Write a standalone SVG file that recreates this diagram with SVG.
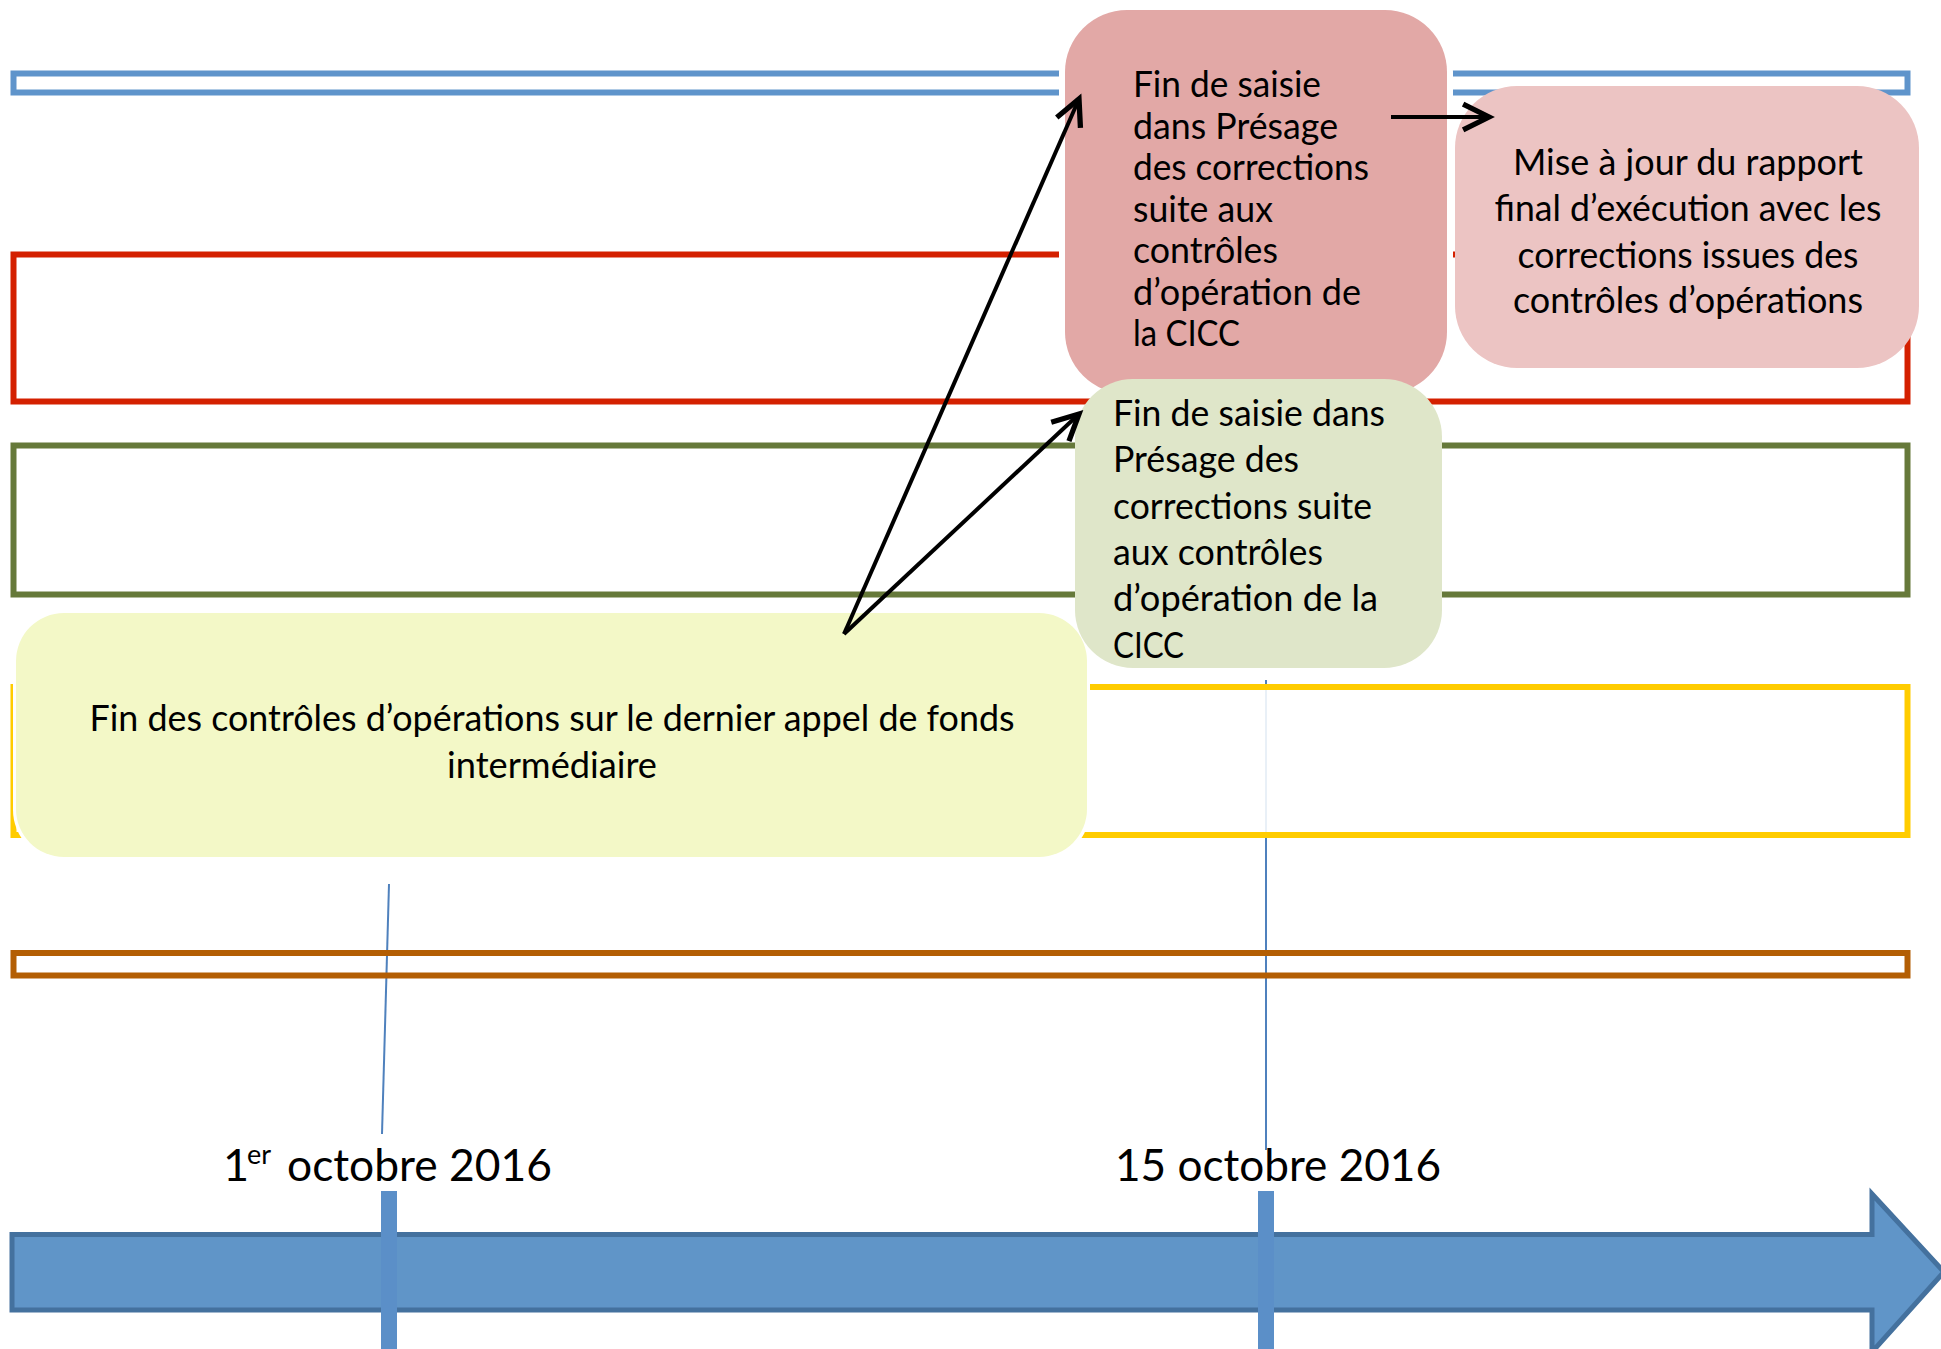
<svg xmlns="http://www.w3.org/2000/svg" width="1941" height="1349" viewBox="0 0 1941 1349">
<defs>
<style>
.t{font-family:Lato,"Liberation Sans",sans-serif;font-size:36px;fill:#000}
.d{font-family:Lato,"Liberation Sans",sans-serif;font-size:45px;fill:#000}
.band{fill:none;stroke-width:6}
.guide{stroke:#4f81bd;stroke-width:2;fill:none}
.conn{stroke:#000;fill:none;stroke-width:4}
</style>
<marker id="ah" markerUnits="userSpaceOnUse" markerWidth="40" markerHeight="40" viewBox="-4 -4 34 34" refX="22" refY="11" orient="auto">
<path d="M0,0 L22,11 L0,22" fill="none" stroke="#000" stroke-width="4.5" stroke-linejoin="miter"/>
</marker>
</defs>
<rect width="1941" height="1349" fill="#fff"/>

<g id="guides">
<line class="guide" x1="389" y1="884" x2="382" y2="1134"/>
<line class="guide" x1="1266" y1="680" x2="1266" y2="1150"/>
</g>

<g id="bands">
<rect class="band" x="13.5" y="73.5" width="1894" height="19" stroke="#5f94cb"/>
<rect class="band" x="13.5" y="254.5" width="1894" height="147" stroke="#d42000"/>
<rect class="band" x="13.5" y="445.5" width="1894" height="149" stroke="#66793a"/>
<rect class="band" x="13.5" y="687" width="1894" height="148" stroke="#ffcc00" style="fill:#fff;fill-opacity:0.88"/>
<rect class="band" x="13.5" y="953" width="1894" height="22.5" stroke="#b35e04"/>
</g>

<g id="timeline">
<path d="M12,1234.5 L1872,1234.5 L1872,1194 L1944,1272 L1872,1352 L1872,1310 L12,1310 Z" fill="#6095c8" stroke="#44719e" stroke-width="5"/>
<rect x="381" y="1191" width="16" height="158" fill="#5b8fc8"/>
<rect x="1258" y="1191" width="16" height="158" fill="#5b8fc8"/>
</g>

<g id="dates">
<text class="d"><tspan x="223" y="1181">1</tspan><tspan x="247" y="1164" font-size="27">er</tspan><tspan x="287" y="1181" textLength="265" lengthAdjust="spacingAndGlyphs">octobre 2016</tspan></text>
<text class="d" x="1115" y="1181" textLength="326" lengthAdjust="spacingAndGlyphs">15 octobre 2016</text>
</g>

<g id="node-fin-controles">
<rect x="13" y="610" width="1077" height="250" rx="50" fill="#fff"/>
<rect x="16" y="613" width="1071" height="244" rx="48" fill="#f3f8c7"/>
<text class="t" text-anchor="middle"><tspan x="552" y="731" textLength="925" lengthAdjust="spacingAndGlyphs">Fin des contrôles d’opérations sur le dernier appel de fonds</tspan><tspan x="552" y="778" textLength="210" lengthAdjust="spacingAndGlyphs">intermédiaire</tspan></text>
</g>

<g id="node-saisie-rouge">
<rect x="1059" y="4" width="394" height="396" rx="68" fill="#fff"/>
<rect x="1065" y="10" width="382" height="384" rx="62" fill="#e2a8a6"/>
<text class="t"><tspan x="1133" y="97" textLength="188" lengthAdjust="spacingAndGlyphs">Fin de saisie</tspan><tspan x="1133" y="139" textLength="205" lengthAdjust="spacingAndGlyphs">dans Présage</tspan><tspan x="1133" y="180" textLength="236" lengthAdjust="spacingAndGlyphs">des corrections</tspan><tspan x="1133" y="222" textLength="140" lengthAdjust="spacingAndGlyphs">suite aux</tspan><tspan x="1133" y="263" textLength="145" lengthAdjust="spacingAndGlyphs">contrôles</tspan><tspan x="1133" y="305" textLength="228" lengthAdjust="spacingAndGlyphs">d’opération de</tspan><tspan x="1133" y="346" textLength="107" lengthAdjust="spacingAndGlyphs">la CICC</tspan></text>
</g>

<g id="node-rapport">
<rect x="1455" y="86" width="464" height="282" rx="62" fill="#ecc4c3"/>
<text class="t" text-anchor="middle"><tspan x="1688" y="175" textLength="350" lengthAdjust="spacingAndGlyphs">Mise à jour du rapport</tspan><tspan x="1688" y="221" textLength="387" lengthAdjust="spacingAndGlyphs">final d’exécution avec les</tspan><tspan x="1688" y="268" textLength="341" lengthAdjust="spacingAndGlyphs">corrections issues des</tspan><tspan x="1688" y="313" textLength="350" lengthAdjust="spacingAndGlyphs">contrôles d’opérations</tspan></text>
</g>

<g id="node-saisie-verte">
<rect x="1075" y="379" width="367" height="289" rx="58" fill="#dfe6c9"/>
<text class="t"><tspan x="1113" y="426" textLength="272" lengthAdjust="spacingAndGlyphs">Fin de saisie dans</tspan><tspan x="1113" y="472" textLength="186" lengthAdjust="spacingAndGlyphs">Présage des</tspan><tspan x="1113" y="519" textLength="259" lengthAdjust="spacingAndGlyphs">corrections suite</tspan><tspan x="1113" y="565" textLength="210" lengthAdjust="spacingAndGlyphs">aux contrôles</tspan><tspan x="1113" y="611" textLength="265" lengthAdjust="spacingAndGlyphs">d’opération de la</tspan><tspan x="1113" y="658" textLength="71" lengthAdjust="spacingAndGlyphs">CICC</tspan></text>
</g>

<g id="connectors">
<line class="conn" x1="844" y1="634" x2="1079" y2="99" marker-end="url(#ah)"/>
<line class="conn" x1="844" y1="634" x2="1079" y2="414" marker-end="url(#ah)"/>
<line class="conn" x1="1391" y1="117" x2="1489" y2="117" stroke-width="5" marker-end="url(#ah)"/>
</g>
</svg>
